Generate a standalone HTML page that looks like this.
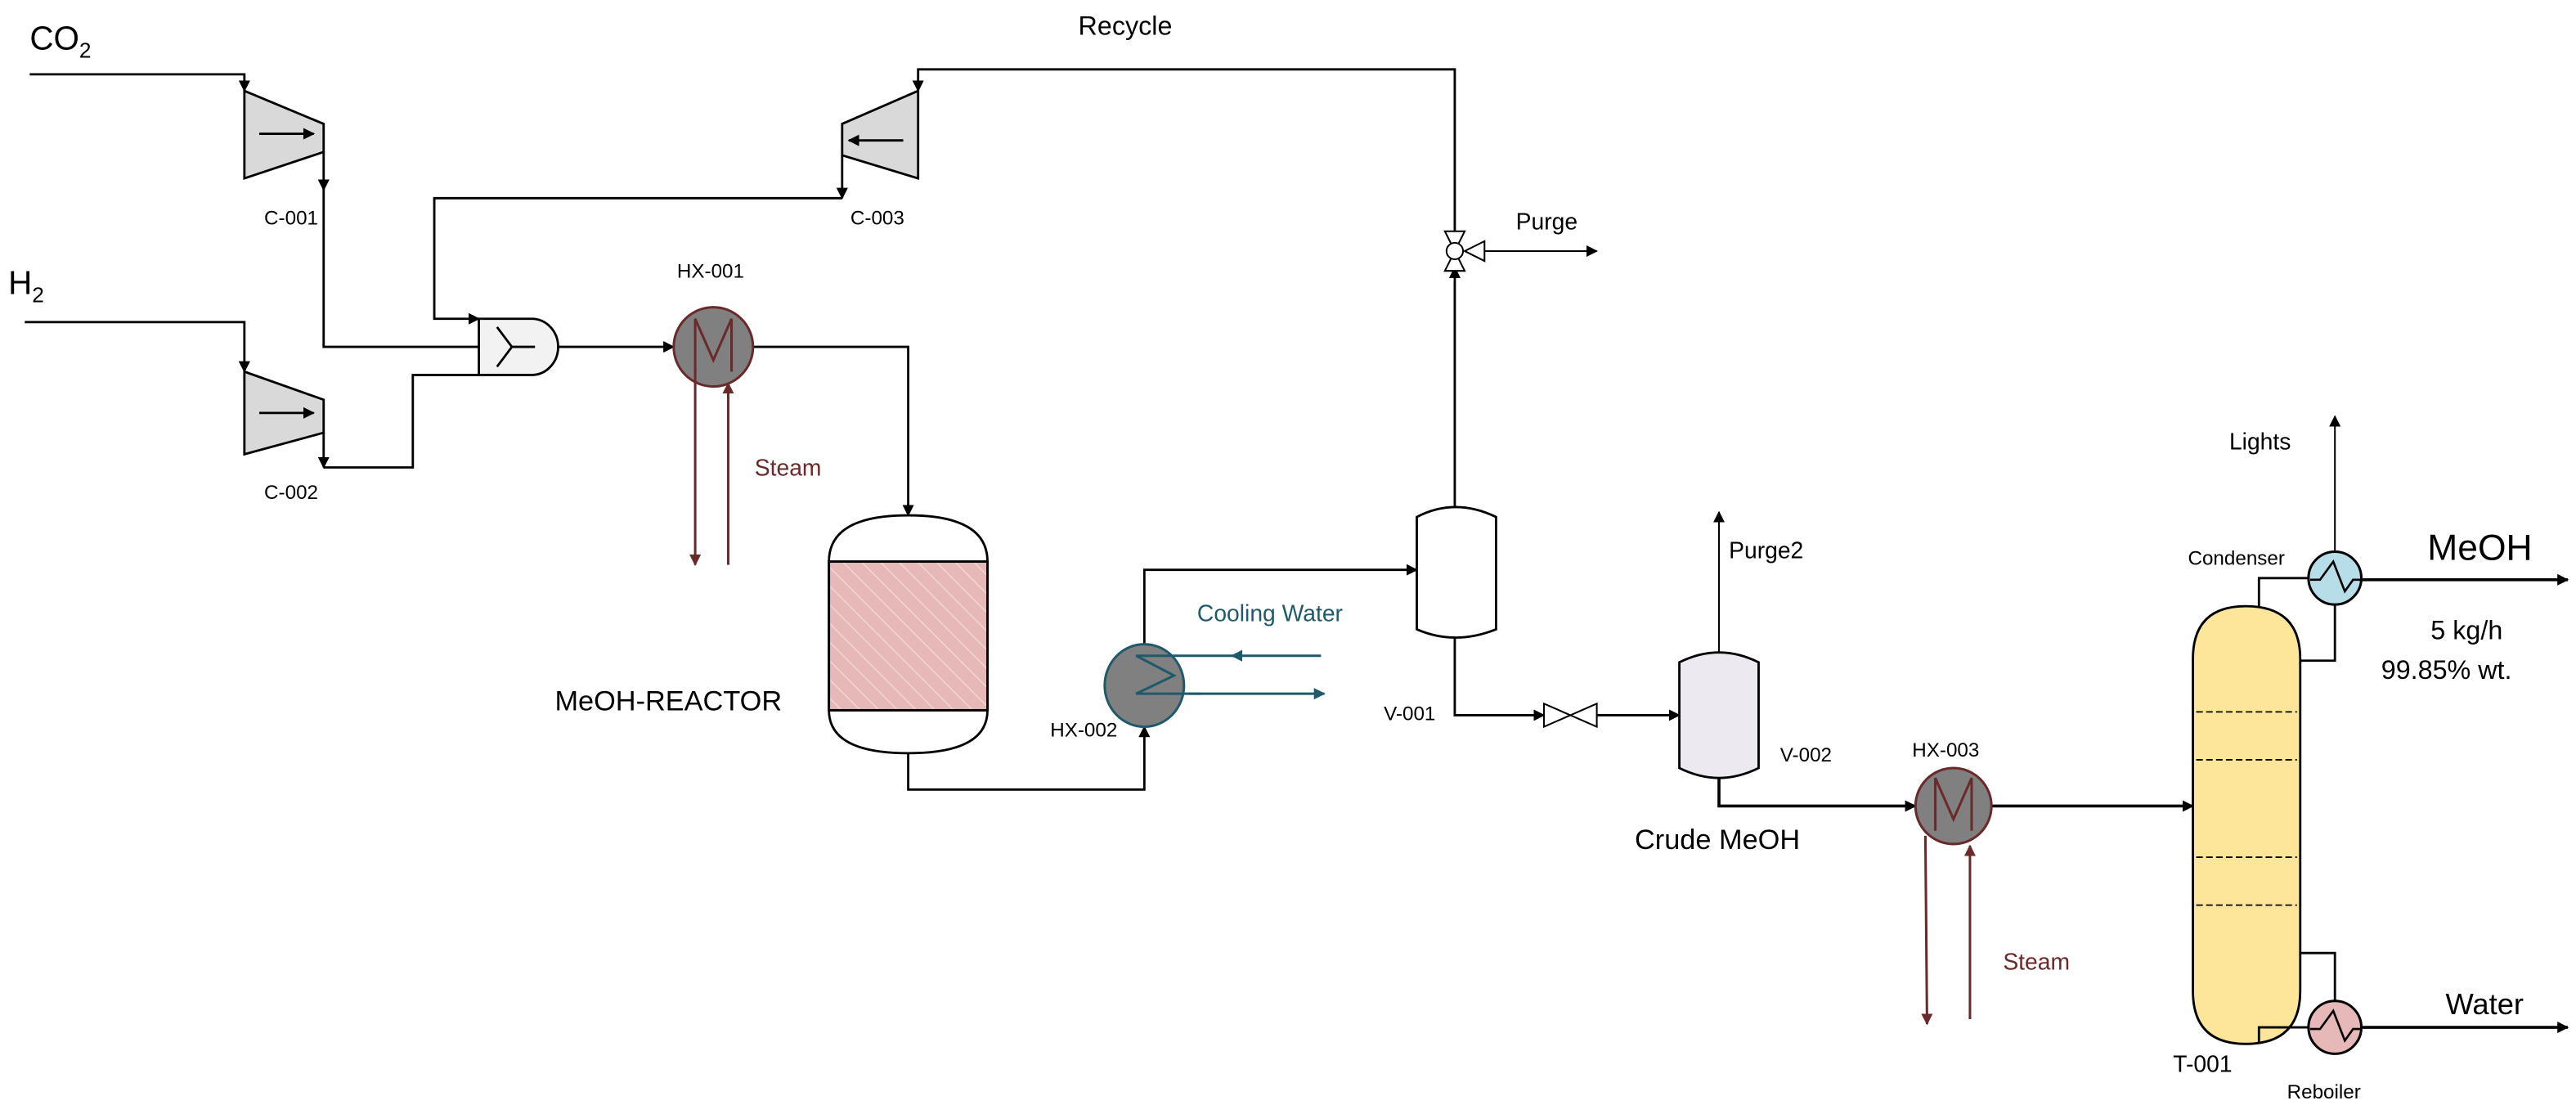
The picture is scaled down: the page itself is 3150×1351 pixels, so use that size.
<!DOCTYPE html>
<html><head><meta charset="utf-8"><style>
html,body{margin:0;padding:0;background:#fff;}
svg{display:block;}
text{font-family:"Liberation Sans",sans-serif;fill:#000;}
</style></head><body>
<svg width="3150" height="1351" viewBox="0 0 1560 669" preserveAspectRatio="none" xmlns="http://www.w3.org/2000/svg">
<defs>
<marker id="a" viewBox="0 0 10 10" refX="9" refY="5" markerWidth="7" markerHeight="7" orient="auto" markerUnits="userSpaceOnUse"><path d="M0,0L10,5L0,10z" fill="#000"/></marker>
<marker id="ar" viewBox="0 0 10 10" refX="9" refY="5" markerWidth="7" markerHeight="7" orient="auto" markerUnits="userSpaceOnUse"><path d="M0,0L10,5L0,10z" fill="#6b2a2a"/></marker>
<marker id="at" viewBox="0 0 10 10" refX="9" refY="5" markerWidth="7" markerHeight="7" orient="auto" markerUnits="userSpaceOnUse"><path d="M0,0L10,5L0,10z" fill="#1f5a6b"/></marker>
<pattern id="h" width="8" height="8" patternUnits="userSpaceOnUse" patternTransform="rotate(-45)"><rect width="8" height="8" fill="#e6b9b8"/><line x1="0" y1="0" x2="0" y2="8" stroke="#f2d6d5" stroke-width="1.5"/></pattern>
</defs>
<g fill="none" stroke="#000" stroke-width="1.4">
<polyline points="18,45 148,45 148,55" marker-end="url(#a)"/>
<polygon points="148,55 196,75 196,92 148,108" fill="#d9d9d9"/>
<polyline points="157,81 190,81" marker-end="url(#a)"/>
<polyline points="196,92 196,115" marker-end="url(#a)"/>
<polyline points="196,114 196,210 290,210"/>
<polyline points="15,195 148,195 148,225" marker-end="url(#a)"/>
<polygon points="148,225 196,242 196,262 148,275" fill="#d9d9d9"/>
<polyline points="157,250 190,250" marker-end="url(#a)"/>
<polyline points="196,262 196,283" marker-end="url(#a)"/>
<polyline points="196,283 250,283 250,227 290,227"/>
<polyline points="881,148 881,42 556,42 556,55" marker-end="url(#a)"/>
<polygon points="556,55 556,108 510,94 510,75" fill="#d9d9d9"/>
<polyline points="547,85 514,85" marker-end="url(#a)"/>
<polyline points="510,94 510,120" marker-end="url(#a)"/>
<polyline points="510,120 263,120 263,193 290,193" marker-end="url(#a)"/>
<path d="M290,193 H322 A16,17 0 0 1 322,227 H290 Z" fill="#f2f2f2"/>
<polyline points="301,198 310,210 301,222" /><line x1="310" y1="210" x2="324" y2="210"/>
<polyline points="338,210 408,210" marker-end="url(#a)"/>
<polyline points="456,210 550,210 550,312" marker-end="url(#a)"/>
<path d="M502,340 Q502,312 550,312 Q598,312 598,340 V430 Q598,456 550,456 Q502,456 502,430 Z" fill="#fff"/>
<rect x="502" y="340" width="96" height="90" fill="url(#h)"/>
<line x1="502" y1="340" x2="598" y2="340"/><line x1="502" y1="430" x2="598" y2="430"/>
<polyline points="550,456 550,478 693,478 693,440" marker-end="url(#a)"/>
<polyline points="693,391 693,345 858,345" marker-end="url(#a)"/>
<path d="M858,313 Q881,301 906,313 V381 Q881,391 858,381 Z" fill="#fff"/>
<polyline points="881,307 881,162" marker-end="url(#a)"/>
<polygon points="875,140 887,140 881,152" fill="#fff" stroke-width="1"/>
<polygon points="875,164 887,164 881,152" fill="#fff" stroke-width="1"/>
<polygon points="899,146 899,158 887,152" fill="#fff" stroke-width="1"/>
<circle cx="881" cy="152" r="5" fill="#fff" stroke-width="1"/>
<polyline points="899,152 967,152" stroke-width="1" marker-end="url(#a)"/>
<polyline points="881,386 881,433 935,433" marker-end="url(#a)"/>
<polygon points="935,426 935,440 967,426 967,440" fill="#fff" stroke-width="1"/>
<polyline points="967,433 1017,433" marker-end="url(#a)"/>
<path d="M1017,401 Q1041,389 1065,401 V465 Q1041,477 1017,465 Z" fill="#ece9f0"/>
<polyline points="1041,395 1041,310" stroke-width="1" marker-end="url(#a)"/>
<polyline points="1041,471 1041,488 1160,488" stroke-width="1.8" marker-end="url(#a)"/>
<polyline points="1206,488 1328,488" stroke-width="1.8" marker-end="url(#a)"/>
<path d="M1328,399 Q1328,367 1360,367 Q1393,367 1393,399 V600 Q1393,632 1360,632 Q1328,632 1328,600 Z" fill="#fde59a"/>
<g stroke-dasharray="4,2" stroke-width="0.9"><line x1="1330" y1="431" x2="1391" y2="431"/><line x1="1330" y1="460" x2="1391" y2="460"/><line x1="1330" y1="519" x2="1391" y2="519"/><line x1="1330" y1="548" x2="1391" y2="548"/></g>
<polyline points="1368,367 1368,350 1398,350"/>
<polyline points="1393,400 1414,400 1414,366"/>
<polyline points="1414,334 1414,252" stroke-width="1" marker-end="url(#a)"/>
<circle cx="1414" cy="350" r="16" fill="#b7dde8" stroke-width="1.5"/>
<polyline points="1399,351 1405,351 1413,340 1420,358 1425,351 1430,351" stroke-width="1.3"/>
<polyline points="1430,351 1555,351" stroke-width="1.8" marker-end="url(#a)"/>
<polyline points="1368,632 1368,622 1398,622"/>
<polyline points="1393,577 1414,577 1414,606"/>
<circle cx="1414" cy="622" r="16" fill="#e6b9b8" stroke-width="1.5"/>
<polyline points="1399,623 1405,623 1413,612 1420,630 1425,623 1430,623" stroke-width="1.3"/>
<polyline points="1430,622 1555,622" stroke-width="1.8" marker-end="url(#a)"/>
</g>
<g stroke="#6b2a2a" stroke-width="1.5" fill="none">
<circle cx="432" cy="210" r="24" fill="#808080"/>
<polyline points="421,225 421,193 432,218 443,193 443,225"/>
<polyline points="421,222 421,342" marker-end="url(#ar)"/>
<polyline points="441,342 441,232" marker-end="url(#ar)"/>
<circle cx="1183" cy="488" r="23" fill="#808080"/>
<polyline points="1172,503 1172,471 1183,496 1194,471 1194,503"/>
<polyline points="1166,506 1167,620" marker-end="url(#ar)"/>
<polyline points="1193,617 1193,512" marker-end="url(#ar)"/>
</g>
<g stroke="#1f5a6b" stroke-width="1.5" fill="none">
<ellipse cx="693" cy="415" rx="24" ry="25" fill="#808080"/>
<polyline points="747,397 711,397 688,397 711,409 688,420 727,420"/>
<polyline points="800,397 746,397" marker-end="url(#at)"/>
<polyline points="720,420 802,420" marker-end="url(#at)"/>
</g>
<text x="18" y="30" font-size="20">CO<tspan font-size="13" dy="5">2</tspan></text>
<text x="5" y="178" font-size="20">H<tspan font-size="13" dy="5">2</tspan></text>
<text x="160" y="136" font-size="12">C-001</text>
<text x="160" y="302" font-size="12">C-002</text>
<text x="515" y="136" font-size="12">C-003</text>
<text x="653" y="21" font-size="16">Recycle</text>
<text x="410" y="168" font-size="12">HX-001</text>
<text x="457" y="288" font-size="14" style="fill:#6b2a2a">Steam</text>
<text x="336" y="430" font-size="17">MeOH-REACTOR</text>
<text x="636" y="446" font-size="12">HX-002</text>
<text x="725" y="376" font-size="14" style="fill:#1f5a6b">Cooling Water</text>
<text x="838" y="436" font-size="12">V-001</text>
<text x="918" y="139" font-size="14">Purge</text>
<text x="1047" y="338" font-size="14">Purge2</text>
<text x="1078" y="461" font-size="12">V-002</text>
<text x="990" y="514" font-size="17">Crude MeOH</text>
<text x="1158" y="458" font-size="12">HX-003</text>
<text x="1213" y="587" font-size="14" style="fill:#6b2a2a">Steam</text>
<text x="1350" y="272" font-size="14">Lights</text>
<text x="1325" y="342" font-size="12">Condenser</text>
<text x="1470" y="339" font-size="22">MeOH</text>
<text x="1472" y="387" font-size="16">5 kg/h</text>
<text x="1442" y="411" font-size="16">99.85% wt.</text>
<text x="1481" y="614" font-size="18">Water</text>
<text x="1316" y="649" font-size="14">T-001</text>
<text x="1385" y="665" font-size="12">Reboiler</text>
</svg>
</body></html>
